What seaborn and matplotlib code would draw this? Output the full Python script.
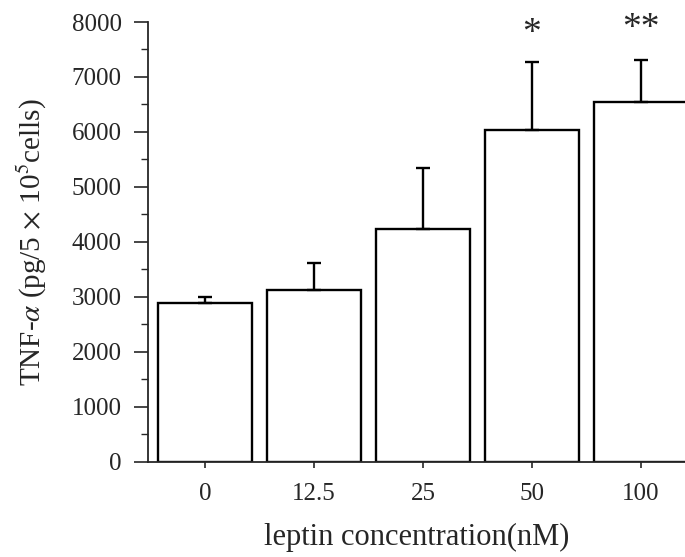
import matplotlib
matplotlib.use("Agg")
import numpy as np
import pandas as pd
import matplotlib.pyplot as plt
import seaborn as sns
from matplotlib.ticker import MultipleLocator

# data
conc = ['0', '12.5', '25', '50', '100']
tnf = [2890, 3125, 4240, 6040, 6545]
err_up = [110, 495, 1105, 1230, 765]
stars = ['', '', '', '*', '**']

sns.set_style('ticks')
plt.rcParams['font.family'] = ['Liberation Serif', 'DejaVu Serif']
plt.rcParams['mathtext.fontset'] = 'stix'

df = pd.DataFrame({'conc': conc, 'tnf': tnf})

fig = plt.figure(figsize=(6.85, 5.57), dpi=100)
ax = fig.add_axes([0.216, 0.1706, 0.784, 0.7899])

sns.barplot(data=df, x='conc', y='tnf', order=conc, color='white',
            edgecolor='black', linewidth=1.7, width=0.86, ax=ax,
            errorbar=None, saturation=1)

xs = np.arange(len(conc))
ax.errorbar(xs, tnf, yerr=[np.zeros(len(tnf)), err_up], fmt='none',
            ecolor='black', elinewidth=1.7, capsize=5, capthick=1.7)

for x, y, e, s in zip(xs, tnf, err_up, stars):
    if s:
        ax.text(x, 7780 if s == '*' else 7870, s, ha='center', va='center',
                fontsize=27, clip_on=False)

ax.set_xlim(-0.523, 4.404)
ax.set_ylim(0, 8000)
ax.yaxis.set_major_locator(MultipleLocator(1000))
ax.yaxis.set_minor_locator(MultipleLocator(500))

sns.despine(ax=ax)
ax.spines['left'].set_linewidth(1.3)
ax.spines['bottom'].set_linewidth(1.3)
ax.tick_params(axis='y', which='major', length=10, width=1.2, pad=9, labelsize=18)
ax.tick_params(axis='y', which='minor', length=5, width=1.0)
ax.tick_params(axis='x', which='major', length=4, width=1.2, pad=11, labelsize=18)

ax.set_xlabel('leptin concentration(nM)', fontsize=22, labelpad=13)
ax.set_ylabel('TNF-$\\alpha$ (pg/5 $\\times$ 10$^5$cells)', fontsize=21, labelpad=16)

fig.savefig('out.png', dpi=100)
